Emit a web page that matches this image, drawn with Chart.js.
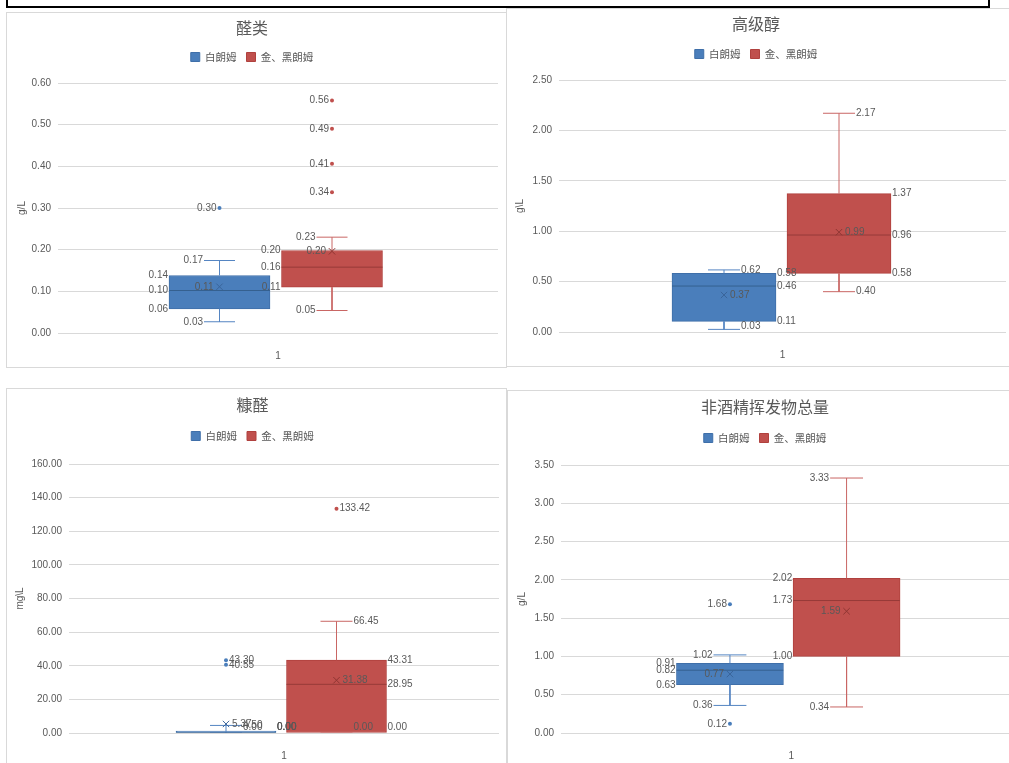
<!DOCTYPE html>
<html>
<head>
<meta charset="utf-8">
<script src="https://cdn.jsdelivr.net/npm/chart.js@4.4.1/dist/chart.umd.min.js"></script>
<style>
  html, body { margin: 0; padding: 0; background: #fff; width: 1009px; height: 763px; overflow: hidden; }
  .frame { position: absolute; left: 6px; top: -20px; width: 984px; height: 28px; border: 2px solid #000; box-sizing: border-box; }
  .panel { position: absolute; border: 1px solid #d9d9d9; box-sizing: border-box; background: #fff; }
  canvas { position: absolute; }
</style>
</head>
<body>
<div class="frame"></div>
<div class="panel" style="left:6px;top:12px;width:501px;height:356px"></div>
<div class="panel" style="left:506px;top:8px;width:520px;height:359px"></div>
<div class="panel" style="left:6px;top:388px;width:501px;height:400px"></div>
<div class="panel" style="left:507px;top:390px;width:520px;height:400px"></div>
<canvas id="c1" style="left:6px;top:12px"></canvas>
<canvas id="c2" style="left:506px;top:8px"></canvas>
<canvas id="c3" style="left:6px;top:388px"></canvas>
<canvas id="c4" style="left:507px;top:390px"></canvas>
<script>
const categories = ['1'];
const seriesNames = ['白朗姆', '金、黑朗姆'];

// box summaries: [min, q1, median, q3, max]
// 醛类 g/L
const aldehydeWhite = [0.027, 0.058, 0.102, 0.138, 0.174];
const aldehydeDark = [0.054, 0.11, 0.158, 0.198, 0.23];
const aldehydeMeans = [0.111, 0.196];
const aldehydeWhiteOutliers = [0.30];
const aldehydeDarkOutliers = [0.338, 0.406, 0.49, 0.558];
const aldehydeTicks = [0, 0.6, 0.1];

// 高级醇 g/L
const alcoholWhite = [0.026, 0.106, 0.456, 0.582, 0.616];
const alcoholDark = [0.40, 0.582, 0.962, 1.372, 2.17];
const alcoholMeans = [0.367, 0.99];
const alcoholWhiteOutliers = [];
const alcoholDarkOutliers = [];
const alcoholTicks = [0, 2.5, 0.5];

// 糠醛 mg/L
const furfuralWhite = [0, 0, 0, 0, 4.5];
const furfuralDark = [0, 0, 28.95, 43.31, 66.45];
const furfuralMeans = [5.37, 31.38];
const furfuralWhiteOutliers = [43.30, 40.55];
const furfuralDarkOutliers = [133.42];
const furfuralTicks = [0, 160, 20];

// 非酒精挥发物总量 g/L
const volatileWhite = [0.36, 0.63, 0.82, 0.91, 1.02];
const volatileDark = [0.34, 1.00, 1.73, 2.02, 3.33];
const volatileMeans = [0.77, 1.59];
const volatileWhiteOutliers = [1.68, 0.12];
const volatileDarkOutliers = [];
const volatileTicks = [0, 3.5, 0.5];

const white = { fill: '#4a7ebb', edge: '#3f6fa9', whisker: '#5585c2', median: '#35608f', mean: '#3a659b' };
const dark = { fill: '#c0504d', edge: '#b0413e', whisker: '#c96664', median: '#963a38', mean: '#8f3532' };
const textColor = '#595959';
const numFont = '"Liberation Sans", "Noto Sans CJK SC", sans-serif';
const cjkFont = '"Noto Sans CJK SC", "Liberation Sans", sans-serif';

Chart.defaults.font.family = numFont;
Chart.defaults.color = textColor;

function labelPlugin(groups, side) {
  return {
    id: 'boxLabels',
    afterDatasetsDraw(chart) {
      const { ctx, chartArea } = chart;
      const xs = chart.scales.xp, ys = chart.scales.y;
      const dir = side === 'right' ? 1 : -1;
      ctx.save();
      ctx.font = '10px ' + numFont;
      ctx.fillStyle = textColor;
      ctx.textAlign = side === 'right' ? 'left' : 'right';
      ctx.textBaseline = 'middle';
      const put = (v, x) => {
        const y = Math.min(Math.max(ys.getPixelForValue(v), chartArea.top + 6), chartArea.bottom - 6);
        ctx.fillText(v.toFixed(2), x, y);
      };
      groups.forEach(g => {
        const cx = xs.getPixelForValue(g.center);
        const boxEdge = xs.getPixelForValue(g.center + dir * g.half);
        const capEdge = xs.getPixelForValue(g.center + dir * g.cap);
        const [mn, q1, md, q3, mx] = g.stats;
        [q1, md, q3].forEach(v => put(v, boxEdge + dir));
        [mn, mx].forEach(v => put(v, capEdge + dir));
        put(g.mean, cx + dir * 6);
        g.outliers.forEach(v => put(v, cx + dir * 3));
      });
      ctx.restore();
    }
  };
}

const legendHeight = {
  id: 'legendHeight',
  beforeLayout(chart, args, opts) {
    const legend = chart.legend;
    if (!legend || legend._patched) return;
    const fit = legend.fit;
    legend.fit = function () { fit.call(this); this.height = opts.height; };
    legend._patched = true;
  }
};

function makeBoxChart(id, opt) {
  const L = opt.box;
  const canvas = document.getElementById(id);
  canvas.width = L.w;
  canvas.height = L.h;

  // positions on the hidden 0..1 axis spanning the plot width
  const W = L.right - L.left;
  const half = L.boxPx / 2 / W;
  const cap = L.capPx / W;
  const groups = [
    { stats: opt.white, mean: opt.means[0], outliers: opt.whiteOutliers, col: white },
    { stats: opt.dark, mean: opt.means[1], outliers: opt.darkOutliers, col: dark }
  ];
  groups.forEach((g, i) => { g.center = 0.5 + L.offsets[i] / W; g.half = half; g.cap = cap; });

  const datasets = groups.map((g, i) => ({
    type: 'bar',
    label: seriesNames[i],
    data: [{ x: g.center, y: [g.stats[1], g.stats[3]] }],
    backgroundColor: g.col.fill,
    borderColor: g.col.edge,
    borderWidth: 1,
    borderSkipped: false,
    grouped: false,
    barThickness: L.boxPx,
    minBarLength: 2,
    xAxisID: 'xp',
    order: 3
  }));

  groups.forEach(g => {
    const x = g.center;
    const [mn, q1, md, q3, mx] = g.stats;
    datasets.push({
      type: 'line',
      data: [
        { x, y: q3 }, { x, y: mx }, { x, y: null },
        { x: x - cap, y: mx }, { x: x + cap, y: mx }, { x, y: null },
        { x, y: q1 }, { x, y: mn }, { x, y: null },
        { x: x - cap, y: mn }, { x: x + cap, y: mn }
      ],
      borderColor: g.col.whisker, borderWidth: 1, pointRadius: 0, spanGaps: false,
      xAxisID: 'xp', order: 2
    });
    datasets.push({
      type: 'line',
      data: [{ x: x - half, y: md }, { x: x + half, y: md }],
      borderColor: g.col.median, borderWidth: 1, pointRadius: 0,
      xAxisID: 'xp', order: 1
    });
    datasets.push({
      type: 'scatter',
      data: [{ x, y: g.mean }],
      pointStyle: 'crossRot', pointRadius: 4.5, borderColor: g.col.mean, borderWidth: 1,
      xAxisID: 'xp', order: 0
    });
    datasets.push({
      type: 'scatter',
      data: g.outliers.map(v => ({ x, y: v })),
      pointRadius: 2, backgroundColor: g.col.fill, borderColor: g.col.fill, borderWidth: 0,
      xAxisID: 'xp', order: 0
    });
  });

  const titleTop = L.title - 9.6;
  const legendPad = 10;
  const titleBottom = L.legend - legendPad - 5.25;

  return new Chart(canvas, {
    type: 'bar',
    data: { labels: categories, datasets },
    options: {
      responsive: false,
      animation: false,
      layout: { padding: { left: 0, top: 0, bottom: 0, right: L.w - L.right } },
      plugins: {
        title: {
          display: true, text: opt.title, color: textColor,
          font: { family: cjkFont, size: 16, weight: 'normal' },
          padding: { top: titleTop, bottom: titleBottom - titleTop - 19.2 }
        },
        legend: {
          position: 'top',
          labels: {
            boxWidth: 9, boxHeight: 9, padding: legendPad, color: textColor,
            font: { family: cjkFont, size: 10.5 },
            filter: item => item.datasetIndex < 2
          }
        },
        legendHeight: { height: L.top - titleBottom },
        tooltip: { enabled: false }
      },
      scales: {
        x: {
          type: 'category',
          offset: true,
          grid: { display: false },
          border: { display: false },
          ticks: { padding: 9, font: { size: 10 }, color: textColor },
          afterFit: s => { s.height = L.h - L.bottom; }
        },
        xp: { type: 'linear', display: false, offset: false, grid: { offset: false }, min: 0, max: 1 },
        y: {
          min: opt.ticks[0], max: opt.ticks[1],
          grid: { color: '#d9d9d9', drawTicks: false },
          border: { display: false },
          ticks: { stepSize: opt.ticks[2], padding: 7, font: { size: 10 }, color: textColor, callback: v => v.toFixed(2) },
          title: { display: true, text: opt.unit, font: { size: 10 }, color: textColor, padding: { top: L.yTitle - 6, bottom: 0 } },
          afterFit: s => { s.width = L.left; }
        }
      }
    },
    plugins: [legendHeight, labelPlugin(groups, opt.side)]
  });
}

makeBoxChart('c1', {
  title: '醛类', unit: 'g/L', side: 'left', ticks: aldehydeTicks,
  white: aldehydeWhite, dark: aldehydeDark, means: aldehydeMeans,
  whiteOutliers: aldehydeWhiteOutliers, darkOutliers: aldehydeDarkOutliers,
  box: { w: 500, h: 355, title: 16, legend: 45, top: 71, bottom: 321, left: 52, right: 492, yTitle: 16,
         offsets: [-58.5, 54], boxPx: 101, capPx: 15.5 }
});

makeBoxChart('c2', {
  title: '高级醇', unit: 'g\\L', side: 'right', ticks: alcoholTicks,
  white: alcoholWhite, dark: alcoholDark, means: alcoholMeans,
  whiteOutliers: alcoholWhiteOutliers, darkOutliers: alcoholDarkOutliers,
  box: { w: 506, h: 358, title: 16, legend: 46, top: 72, bottom: 324, left: 53, right: 500, yTitle: 14,
         offsets: [-58.5, 56.5], boxPx: 104, capPx: 16 }
});

makeBoxChart('c3', {
  title: '糠醛', unit: 'mg\\L', side: 'right', ticks: furfuralTicks,
  white: furfuralWhite, dark: furfuralDark, means: furfuralMeans,
  whiteOutliers: furfuralWhiteOutliers, darkOutliers: furfuralDarkOutliers,
  box: { w: 500, h: 375, title: 17, legend: 48, top: 76, bottom: 345, left: 63, right: 493, yTitle: 14,
         offsets: [-58, 52.5], boxPx: 100, capPx: 16 }
});

makeBoxChart('c4', {
  title: '非酒精挥发物总量', unit: 'g/L', side: 'left', ticks: volatileTicks,
  white: volatileWhite, dark: volatileDark, means: volatileMeans,
  whiteOutliers: volatileWhiteOutliers, darkOutliers: volatileDarkOutliers,
  box: { w: 520, h: 373, title: 17, legend: 48, top: 75, bottom: 343, left: 54, right: 516, yTitle: 15,
         offsets: [-61.5, 55.5], boxPx: 107, capPx: 16.5 }
});
</script>
</body>
</html>
